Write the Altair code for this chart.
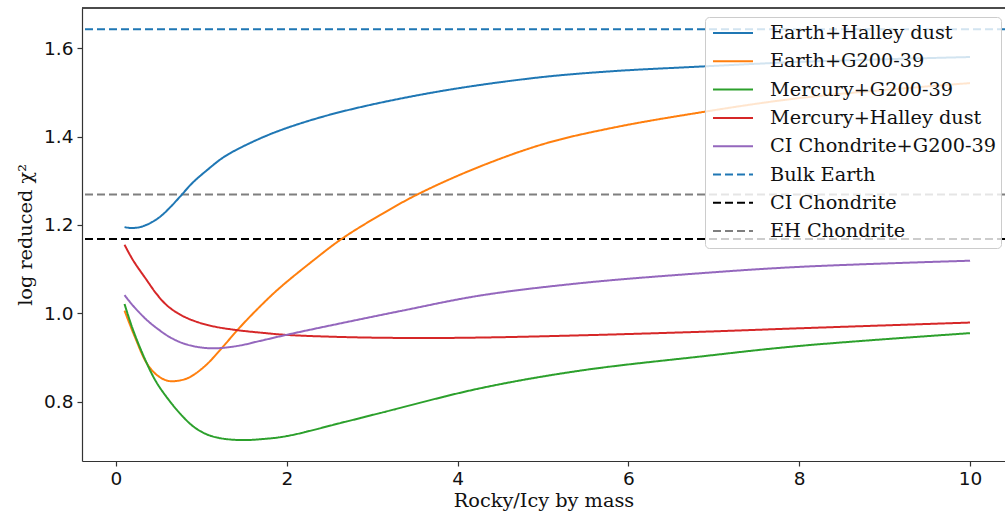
import altair as alt
import pandas as pd

# Model curves: rocky/icy mass ratio vs log reduced chi^2
earth_halley_x = [0.1, 0.18, 0.28, 0.4, 0.52, 0.64, 0.75, 0.9, 1.06, 1.25, 1.45, 1.84, 2.35, 2.94, 3.87, 4.96, 5.82, 6.8, 8.0, 9.0, 10.0]
earth_halley_y = [1.195, 1.193, 1.195, 1.204, 1.219, 1.241, 1.264, 1.296, 1.323, 1.352, 1.374, 1.408, 1.441, 1.470, 1.505, 1.534, 1.548, 1.558, 1.569, 1.575, 1.580]

earth_g200_x = [0.1, 0.22, 0.36, 0.48, 0.61, 0.75, 0.87, 1.05, 1.22, 1.45, 1.7, 1.92, 2.3, 2.64, 3.09, 3.54, 4.26, 5.04, 5.82, 6.6, 8.0, 10.0]
earth_g200_y = [1.006, 0.947, 0.887, 0.860, 0.847, 0.848, 0.856, 0.882, 0.917, 0.968, 1.018, 1.058, 1.118, 1.168, 1.222, 1.270, 1.332, 1.385, 1.420, 1.447, 1.487, 1.521]

mercury_g200_x = [0.1, 0.2, 0.36, 0.47, 0.59, 0.75, 0.91, 1.05, 1.2, 1.45, 1.7, 2.0, 2.7, 3.09, 4.26, 5.43, 6.84, 8.0, 10.0]
mercury_g200_y = [1.021, 0.962, 0.887, 0.845, 0.811, 0.773, 0.743, 0.727, 0.718, 0.713, 0.715, 0.722, 0.755, 0.774, 0.830, 0.870, 0.902, 0.926, 0.955]

mercury_halley_x = [0.1, 0.2, 0.36, 0.47, 0.59, 0.75, 0.94, 1.15, 1.41, 1.7, 2.0, 2.7, 3.5, 4.26, 5.43, 6.84, 8.0, 10.0]
mercury_halley_y = [1.155, 1.120, 1.075, 1.045, 1.019, 0.997, 0.981, 0.970, 0.962, 0.956, 0.951, 0.946, 0.944, 0.945, 0.950, 0.958, 0.966, 0.979]

ci_g200_x = [0.1, 0.2, 0.36, 0.5, 0.63, 0.8, 1.02, 1.2, 1.45, 1.7, 2.04, 2.7, 3.33, 4.26, 5.43, 6.8, 8.0, 10.0]
ci_g200_y = [1.041, 1.017, 0.985, 0.963, 0.946, 0.931, 0.922, 0.921, 0.927, 0.938, 0.953, 0.980, 1.005, 1.040, 1.068, 1.090, 1.105, 1.119]

# Reference compositions (horizontal levels)
level_names = ["Bulk Earth", "CI Chondrite", "EH Chondrite"]
level_values = [1.643, 1.168, 1.269]

series_names = [
    "Earth+Halley dust",
    "Earth+G200-39",
    "Mercury+G200-39",
    "Mercury+Halley dust",
    "CI Chondrite+G200-39",
    "Bulk Earth",
    "CI Chondrite",
    "EH Chondrite",
]
series_colors = ["#1f77b4", "#ff7f0e", "#2ca02c", "#d62728", "#9467bd", "#1f77b4", "#000000", "#7f7f7f"]
series_dash = [[1, 0]] * 5 + [[8, 4]] * 3

curves = [
    ("Earth+Halley dust", earth_halley_x, earth_halley_y),
    ("Earth+G200-39", earth_g200_x, earth_g200_y),
    ("Mercury+G200-39", mercury_g200_x, mercury_g200_y),
    ("Mercury+Halley dust", mercury_halley_x, mercury_halley_y),
    ("CI Chondrite+G200-39", ci_g200_x, ci_g200_y),
]
rows = []
for name, xs, ys in curves:
    for xv, yv in zip(xs, ys):
        rows.append({"series": name, "ratio": xv, "chi": yv})
curve_df = pd.DataFrame(rows)
level_df = pd.DataFrame({"series": level_names, "chi": level_values})

W, H = 923, 453

x_scale = alt.Scale(domain=[-0.398, 10.41], nice=False, zero=False)
y_scale = alt.Scale(domain=[0.6656, 1.691], nice=False, zero=False)

color_enc = alt.Color(
    "series:N",
    scale=alt.Scale(domain=series_names, range=series_colors),
    title=None,
    sort=series_names,
)
dash_enc = alt.StrokeDash(
    "series:N",
    scale=alt.Scale(domain=series_names, range=series_dash),
    title=None,
    sort=series_names,
)

lines = alt.Chart(curve_df).mark_line(strokeWidth=2, interpolate="catmull-rom", clip=True).encode(
    x=alt.X(
        "ratio:Q",
        scale=x_scale,
        axis=alt.Axis(values=[0, 2, 4, 6, 8, 10], title="Rocky/Icy by mass", format="d"),
    ),
    y=alt.Y(
        "chi:Q",
        scale=y_scale,
        axis=alt.Axis(values=[0.8, 1.0, 1.2, 1.4, 1.6], title="log reduced χ²", format=".1f"),
    ),
    color=color_enc,
    strokeDash=dash_enc,
)

levels = alt.Chart(level_df).mark_rule(strokeWidth=2).encode(
    y=alt.Y("chi:Q", scale=y_scale),
    color=color_enc,
    strokeDash=dash_enc,
)

# top spine of the axes frame
top_spine = alt.Chart(level_df).mark_rule(color="#333333", strokeWidth=1.2).encode(
    x=alt.value(0), x2=alt.value(W), y=alt.value(0)
)

chart = (
    alt.layer(levels, lines, top_spine)
    .properties(
        width=W,
        height=H,
        autosize=alt.AutoSizeParams(type="none"),
        padding={"left": 82, "top": 8, "right": 0, "bottom": 55},
        background="white",
    )
    .configure_view(stroke=None)
    .configure_axis(
        grid=False,
        domainColor="#333333",
        domainWidth=1.2,
        tickColor="#333333",
        tickWidth=1.2,
        tickSize=5,
        labelFont="DejaVu Sans",
        labelFontSize=18.5,
        labelColor="#111111",
        titleFont="DejaVu Serif",
        titleFontSize=19.3,
        titleFontWeight="normal",
        titleColor="#111111",
    )
    .configure_axisX(labelPadding=3, titlePadding=4)
    .configure_axisY(labelPadding=4, titlePadding=8)
    .configure_legend(
        orient="none",
        legendX=623,
        legendY=9,
        fillColor="rgba(255,255,255,0.8)",
        strokeColor="#cccccc",
        cornerRadius=4,
        padding=5,
        labelFont="DejaVu Serif",
        labelFontSize=19.3,
        labelColor="#111111",
        labelLimit=400,
        labelOffset=16,
        symbolType="stroke",
        symbolSize=1600,
        symbolStrokeWidth=2,
        symbolOffset=2,
        clipHeight=22,
        rowPadding=6.3,
    )
)

chart.save("out.html", embed_options={"renderer": "svg", "actions": False})
